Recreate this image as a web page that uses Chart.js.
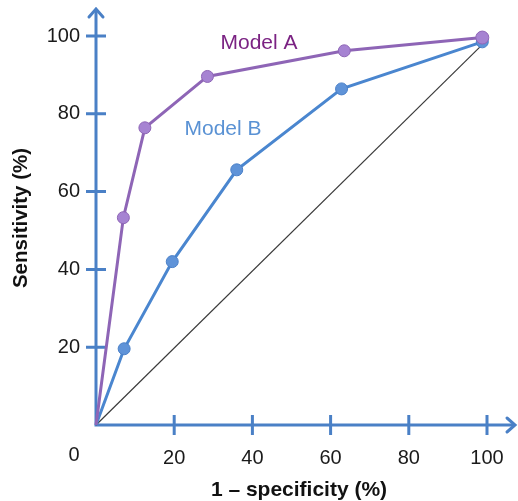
<!DOCTYPE html>
<html>
<head>
<meta charset="utf-8">
<script src="https://cdn.jsdelivr.net/npm/chart.js@4/dist/chart.umd.min.js"></script>
<style>
html,body{margin:0;padding:0;background:#fff;}
#wrap{width:518px;height:501px;position:relative;}
</style>
</head>
<body>
<div id="wrap"><canvas id="c" width="518" height="501"></canvas></div>
<script>
// ---- data ----
const modelAX = [0, 7, 12.5, 28.5, 63.5, 98.8];
const modelAY = [0, 53.3, 76.4, 89.6, 96.2, 99.6];
const modelBX = [0, 7.2, 19.5, 36, 62.8, 98.8];
const modelBY = [0, 19.6, 42, 65.6, 86.4, 98.5];
const diagX = [0, 98.8];
const diagY = [0, 97.8];
const tickValues = [20, 40, 60, 80, 100];
const seriesNames = ["Model A", "Model B"];
const xTitle = "1 \u2013 specificity (%)";
const yTitle = "Sensitivity (%)";

const toPts = (xs, ys) => xs.map((x, i) => ({x: x, y: ys[i]}));

const AXIS = '#4a80c6';
const FONT = '"Liberation Sans", Arial, Helvetica, sans-serif';

const axisPlugin = {
  id: 'axisPlugin',
  beforeDatasetsDraw(chart) {
    const ctx = chart.ctx;
    const xs = chart.scales.x, ys = chart.scales.y;
    const x0 = xs.getPixelForValue(0), y0 = ys.getPixelForValue(0);
    ctx.save();
    ctx.strokeStyle = AXIS;
    ctx.lineWidth = 3;
    ctx.lineCap = 'butt';
    ctx.beginPath();
    ctx.moveTo(x0, y0 + 1.5); ctx.lineTo(x0, 9);
    ctx.moveTo(x0 - 1.5, y0); ctx.lineTo(515, y0);
    ctx.stroke();
    ctx.beginPath();
    tickValues.forEach(v => {
      const px = xs.getPixelForValue(v);
      ctx.moveTo(px, y0 - 10); ctx.lineTo(px, y0 + 10);
      const py = ys.getPixelForValue(v);
      ctx.moveTo(x0 - 10, py); ctx.lineTo(x0 + 10, py);
    });
    ctx.stroke();
    ctx.lineCap = 'round';
    ctx.beginPath();
    ctx.moveTo(x0 - 7, 17); ctx.lineTo(x0, 9); ctx.lineTo(x0 + 7, 17);
    ctx.moveTo(507, y0 - 7); ctx.lineTo(515, y0); ctx.lineTo(507, y0 + 7);
    ctx.stroke();
    ctx.restore();
  },
  afterDraw(chart) {
    const ctx = chart.ctx;
    ctx.save();
    ctx.fillStyle = '#1a1a1a';
    ctx.font = '20px ' + FONT;
    ctx.textAlign = 'center';
    ctx.textBaseline = 'middle';
    ctx.fillText('0', 74, 455);
    ctx.font = '21px ' + FONT;
    ctx.fillStyle = '#7b2383';
    ctx.fillText(seriesNames[0], 259, 43);
    ctx.fillStyle = '#5a92d4';
    ctx.fillText(seriesNames[1], 223, 129);
    ctx.fillStyle = '#111';
    ctx.font = 'bold 21px ' + FONT;
    ctx.fillText(xTitle, 299, 490);
    ctx.font = 'bold 20.5px ' + FONT;
    ctx.translate(21, 218);
    ctx.rotate(-Math.PI / 2);
    ctx.fillText(yTitle, 0, 0);
    ctx.restore();
  }
};

new Chart(document.getElementById('c'), {
  type: 'scatter',
  data: {
    datasets: [
      {
        label: 'diag',
        data: toPts(diagX, diagY),
        showLine: true,
        borderColor: '#3a3a3a',
        borderWidth: 1.2,
        pointRadius: 0,
        order: 3
      },
      {
        label: seriesNames[1],
        data: toPts(modelBX, modelBY),
        showLine: true,
        borderColor: '#4a86cf',
        borderWidth: 3,
        pointRadius: [0, 6, 6, 6, 6, 6],
        pointBackgroundColor: '#5f93d8',
        pointBorderColor: '#4a80c8',
        pointBorderWidth: 1,
        order: 2
      },
      {
        label: seriesNames[0],
        data: toPts(modelAX, modelAY),
        showLine: true,
        borderColor: '#8e65b6',
        borderWidth: 3,
        pointRadius: [0, 6, 6, 6, 6, 6.5],
        pointBackgroundColor: '#a683d2',
        pointBorderColor: '#8e65b6',
        pointBorderWidth: 1,
        order: 1
      }
    ]
  },
  options: {
    responsive: false,
    animation: false,
    clip: false,
    layout: { padding: { top: 36, right: 31, left: 0, bottom: 0 } },
    plugins: { legend: { display: false }, tooltip: { enabled: false } },
    scales: {
      x: {
        type: 'linear', min: 0, max: 100,
        grid: { display: false, drawTicks: false },
        border: { display: false },
        ticks: {
          stepSize: 20, padding: 21, color: '#1a1a1a',
          font: { family: FONT, size: 20 },
          callback: v => (v === 0 ? '' : v)
        },
        afterFit: s => { s.height = 76; s.paddingLeft = 0; s.paddingRight = 0; }
      },
      y: {
        type: 'linear', min: 0, max: 100,
        grid: { display: false, drawTicks: false },
        border: { display: false },
        ticks: {
          stepSize: 20, padding: 16, color: '#1a1a1a',
          font: { family: FONT, size: 20 },
          callback: v => (v === 0 ? '' : v)
        },
        afterFit: s => { s.width = 96; s.paddingTop = 0; s.paddingBottom = 0; }
      }
    }
  },
  plugins: [axisPlugin]
});
</script>
</body>
</html>
